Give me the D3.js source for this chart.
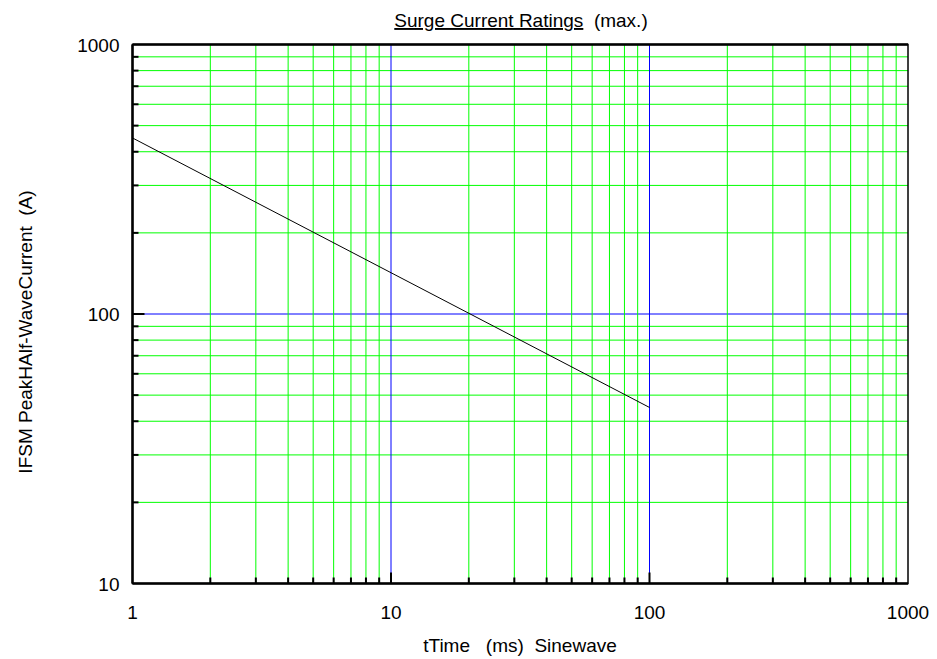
<!DOCTYPE html>
<meta charset="utf-8">
<style type="text/css">
body { margin: 0; background: #fff; }
text { font-family: "Liberation Sans", Arial, sans-serif; fill: #000; }
.curve { fill: none; stroke: #000; stroke-width: 1; }
</style>
<body>
<script src="https://d3js.org/d3.v7.min.js"></script>
<script>

// data
var timeMs = [1, 100];
var currentA = [450, 45];

var xTicks = [1, 10, 100, 1000];
var yTicks = [10, 100, 1000];

var margin = {top: 44.5, right: 29, bottom: 75.5, left: 132.5},
    width = 937 - margin.left - margin.right,
    height = 659 - margin.top - margin.bottom;

var svg = d3.select("body").append("svg")
    .attr("width", 937)
    .attr("height", 659);

var g = svg.append("g")
    .attr("transform", "translate(" + margin.left + "," + margin.top + ")");

var x = d3.scaleLog().domain([1, 1000]).range([0, width]);
var y = d3.scaleLog().domain([10, 1000]).range([height, 0]);

// all 1..9 values per decade
function decadeValues(lo, hi) {
  var out = [];
  for (var p = lo; p < hi; p *= 10)
    for (var k = 1; k < 10; k++) out.push(p * k);
  out.push(hi);
  return out;
}
var xAll = decadeValues(1, 1000).filter(function(v) { return v > 1 && v < 1000; });
var yAll = decadeValues(10, 1000).filter(function(v) { return v > 10 && v < 1000; });

function isMajor(v) { return Math.abs(Math.log10(v) % 1) < 1e-9; }
function gridColor(d) { return isMajor(d) ? "#0000ff" : "#00ff00"; }

// grid: green minor lines first, blue decade lines on top
var xOrd = xAll.slice().sort(function(a, b) { return isMajor(a) - isMajor(b); });
var yOrd = yAll.slice().sort(function(a, b) { return isMajor(a) - isMajor(b); });
var grid = g.append("g");
grid.selectAll("line.gy").data(yOrd).enter().append("line")
    .attr("class", "gy")
    .attr("y1", function(d) { return y(d); }).attr("y2", function(d) { return y(d); })
    .attr("x1", 0).attr("x2", width)
    .style("stroke", gridColor).style("stroke-width", 1);
grid.selectAll("line.gx").data(xOrd).enter().append("line")
    .attr("class", "gx")
    .attr("x1", function(d) { return x(d); }).attr("x2", function(d) { return x(d); })
    .attr("y1", 0).attr("y2", height)
    .style("stroke", gridColor).style("stroke-width", 1);

// frame
g.append("rect")
    .attr("width", width).attr("height", height)
    .attr("fill", "none").attr("stroke", "#000").attr("stroke-width", 1.5);
g.append("line").attr("x1", 0).attr("x2", width).attr("y1", 0).attr("y2", 0)
    .attr("stroke", "#000").attr("stroke-width", 2.5);
g.append("line").attr("x1", 0).attr("x2", 0).attr("y1", 0).attr("y2", height)
    .attr("stroke", "#000").attr("stroke-width", 2.5);
g.append("line").attr("x1", 0).attr("x2", width).attr("y1", height).attr("y2", height)
    .attr("stroke", "#000").attr("stroke-width", 2.5);

// inside ticks
g.append("g").selectAll("line").data(xAll).enter().append("line")
    .attr("x1", function(d) { return x(d); }).attr("x2", function(d) { return x(d); })
    .attr("y1", height).attr("y2", function(d) { return height - (isMajor(d) ? 11 : 6); })
    .attr("stroke", "#000").attr("stroke-width", 2);
g.append("g").selectAll("line").data(yAll).enter().append("line")
    .attr("y1", function(d) { return y(d); }).attr("y2", function(d) { return y(d); })
    .attr("x1", 0).attr("x2", function(d) { return isMajor(d) ? 12 : 6; })
    .attr("stroke", "#000").attr("stroke-width", 2);

// tick labels
g.append("g").selectAll("text").data(xTicks).enter().append("text")
    .attr("x", function(d) { return x(d); })
    .attr("y", height + 35)
    .attr("text-anchor", "middle")
    .style("font-size", "19px")
    .text(function(d) { return d; });
g.append("g").selectAll("text").data(yTicks).enter().append("text")
    .attr("x", -13)
    .attr("y", function(d) { return y(d) + 7; })
    .attr("text-anchor", "end")
    .style("font-size", "19px")
    .text(function(d) { return d; });

// curve
var pts = timeMs.map(function(t, i) { return [t, currentA[i]]; });
g.append("path").datum(pts)
    .attr("class", "curve")
    .attr("d", d3.line().x(function(d) { return x(d[0]); }).y(function(d) { return y(d[1]); }));

// titles
var title = svg.append("text")
    .attr("x", 521).attr("y", 27)
    .attr("text-anchor", "middle")
    .style("font-size", "19px");
title.append("tspan").style("text-decoration", "underline").text("Surge Current Ratings");
title.append("tspan").text("\u00a0\u00a0(max.)");

svg.append("text")
    .attr("x", 520).attr("y", 652)
    .attr("text-anchor", "middle")
    .style("font-size", "19px")
    .text("tTime\u00a0\u00a0\u00a0(ms)\u00a0\u00a0Sinewave");

svg.append("text")
    .attr("transform", "translate(32,332) rotate(-90)")
    .attr("text-anchor", "middle")
    .style("font-size", "19px")
    .text("IFSM PeakHAlf-WaveCurrent\u00a0\u00a0(A)");

</script>
</body>
